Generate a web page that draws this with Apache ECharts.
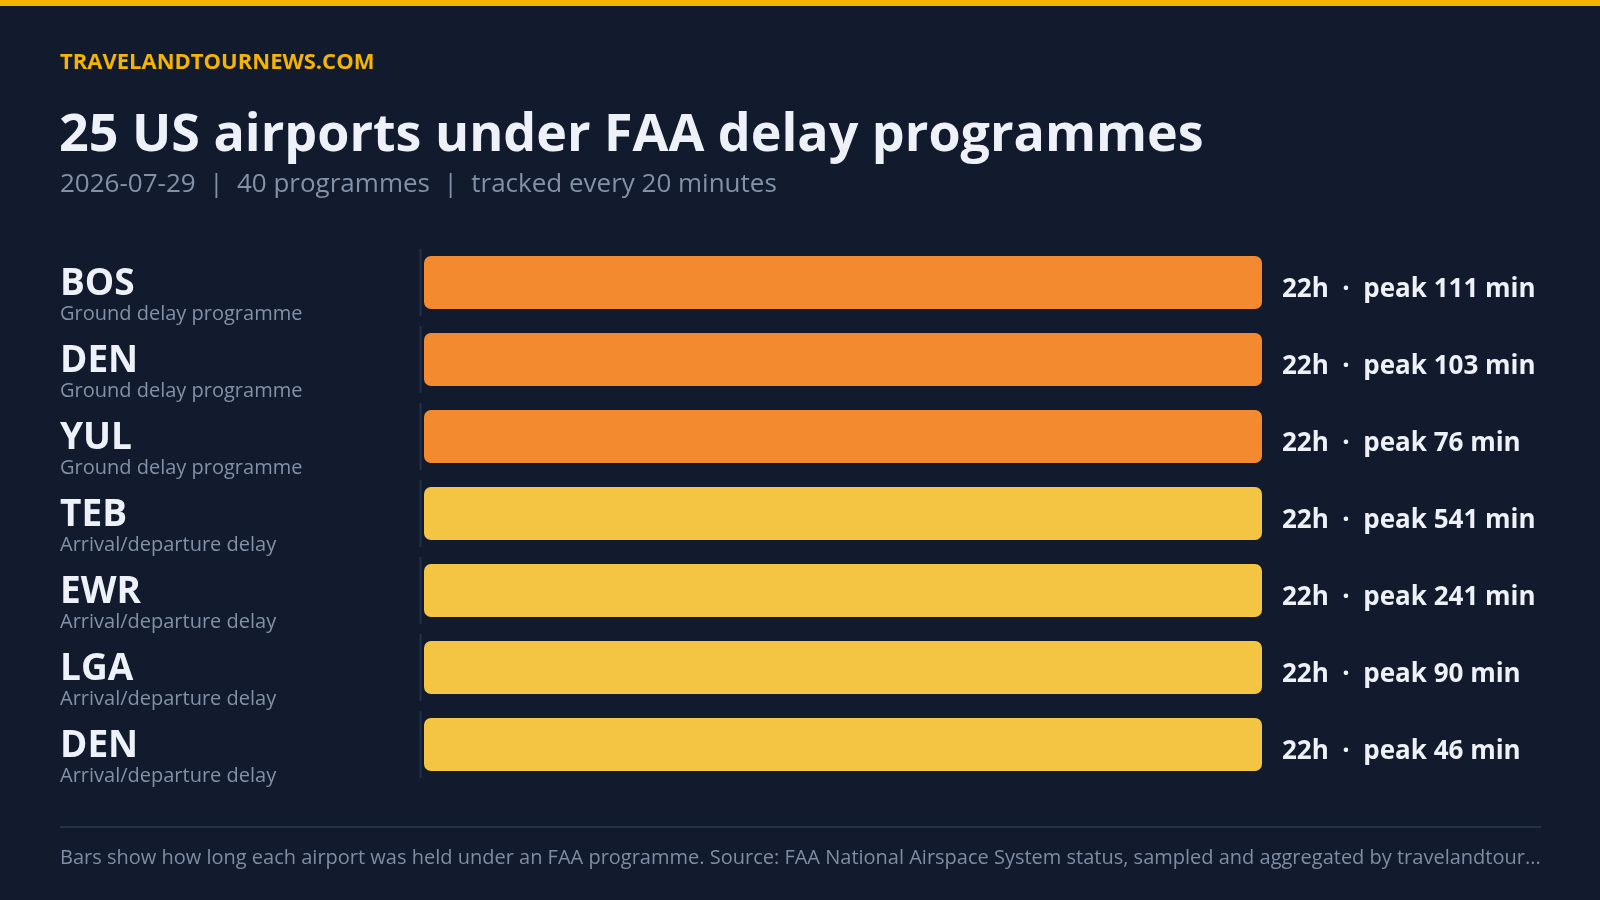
<!DOCTYPE html>
<html>
<head>
<meta charset="utf-8">
<title>25 US airports under FAA delay programmes</title>
<script src="https://cdn.jsdelivr.net/npm/echarts@6/dist/echarts.min.js"></script>
<style>
  html, body { margin: 0; padding: 0; background: #111b2d; }
  #chart { width: 1600px; height: 900px; }
</style>
</head>
<body>
<div id="chart"></div>
<script>
// airport rows, top to bottom
const codes = ['BOS', 'DEN', 'YUL', 'TEB', 'EWR', 'LGA', 'DEN']
const programmes = [
  'Ground delay programme',
  'Ground delay programme',
  'Ground delay programme',
  'Arrival/departure delay',
  'Arrival/departure delay',
  'Arrival/departure delay',
  'Arrival/departure delay'
]
const hours = [22, 22, 22, 22, 22, 22, 22]
const peaks = [111, 103, 76, 541, 241, 90, 46]

// colour per programme type
const typeColors = {
  'Ground delay programme': '#f48a2f',
  'Arrival/departure delay': '#f4c543'
}

const FONT = "'Open Sans', 'Noto Sans', sans-serif"
const footnote = 'Bars show how long each airport was held under an FAA programme. Source: FAA National Airspace System status, sampled and aggregated by travelandtournews.com'

const chart = echarts.init(document.getElementById('chart'))

const option = {
  backgroundColor: '#111b2d',
  animation: false,
  textStyle: { fontFamily: FONT },
  grid: { left: 424, right: 338, top: 244, bottom: 117 },
  xAxis: {
    type: 'value',
    min: 0,
    max: 22,
    show: false
  },
  yAxis: {
    type: 'category',
    inverse: true,
    data: codes,
    axisLine: { show: false },
    axisTick: { show: false },
    splitLine: { show: false },
    axisLabel: {
      interval: 0,
      align: 'left',
      margin: 364,
      padding: [28, 0, 0, 0],
      formatter: (val, idx) => `{code|${codes[idx]}}\n{sub|${programmes[idx]}}`,
      rich: {
        code: {
          fontFamily: FONT,
          fontSize: 37,
          fontWeight: 'bold',
          color: '#eef2f8',
          lineHeight: 36
        },
        sub: {
          fontFamily: FONT,
          fontSize: 20,
          color: '#8391a8',
          lineHeight: 25
        }
      }
    }
  },
  series: [
    {
      type: 'custom',
      silent: true,
      data: codes.map((c, i) => [0, i]),
      renderItem: (params, api) => {
        const pt = api.coord([0, api.value(1)])
        const h = api.size([0, 1])[1]
        return {
          type: 'rect',
          shape: { x: pt[0] - 4.5, y: pt[1] - h * 0.435, width: 2, height: h * 0.87 },
          style: { fill: '#233249' }
        }
      },
      z: 1
    },
    {
      type: 'bar',
      barWidth: 53,
      data: hours.map((v, i) => ({
        value: v,
        itemStyle: { color: typeColors[programmes[i]], borderRadius: 7 }
      })),
      label: {
        show: true,
        position: 'right',
        distance: 20,
        offset: [0, 7],
        fontFamily: FONT,
        fontSize: 26,
        fontWeight: 'bold',
        color: '#eef2f8',
        formatter: p => `${hours[p.dataIndex]}h  \u00b7  peak ${peaks[p.dataIndex]} min`
      },
      z: 2
    }
  ],
  graphic: [
    {
      type: 'rect',
      shape: { x: 0, y: 0, width: 1600, height: 6 },
      style: { fill: '#f5b400' }
    },
    {
      type: 'text',
      x: 60,
      y: 63,
      style: {
        text: 'TRAVELANDTOURNEWS.COM',
        fill: '#f5b400',
        font: `bold 22px ${FONT}`,
        verticalAlign: 'middle'
      }
    },
    {
      type: 'text',
      x: 59,
      y: 136,
      style: {
        text: '25 US airports under FAA delay programmes',
        fill: '#eef2f8',
        font: `bold 52px ${FONT}`,
        verticalAlign: 'middle'
      }
    },
    {
      type: 'text',
      x: 60,
      y: 185,
      style: {
        text: '2026-07-29  |  40 programmes  |  tracked every 20 minutes',
        fill: '#8391a8',
        font: `26px ${FONT}`,
        verticalAlign: 'middle'
      }
    },
    {
      type: 'rect',
      shape: { x: 60, y: 826, width: 1481, height: 2 },
      style: { fill: '#233249' }
    },
    {
      type: 'text',
      x: 60,
      y: 858,
      style: {
        text: footnote,
        fill: '#7f8ca3',
        font: `20px ${FONT}`,
        verticalAlign: 'middle',
        width: 1490,
        overflow: 'truncate',
        ellipsis: '...'
      }
    }
  ]
}

chart.setOption(option)
window.addEventListener('resize', () => chart.resize())
</script>
</body>
</html>
